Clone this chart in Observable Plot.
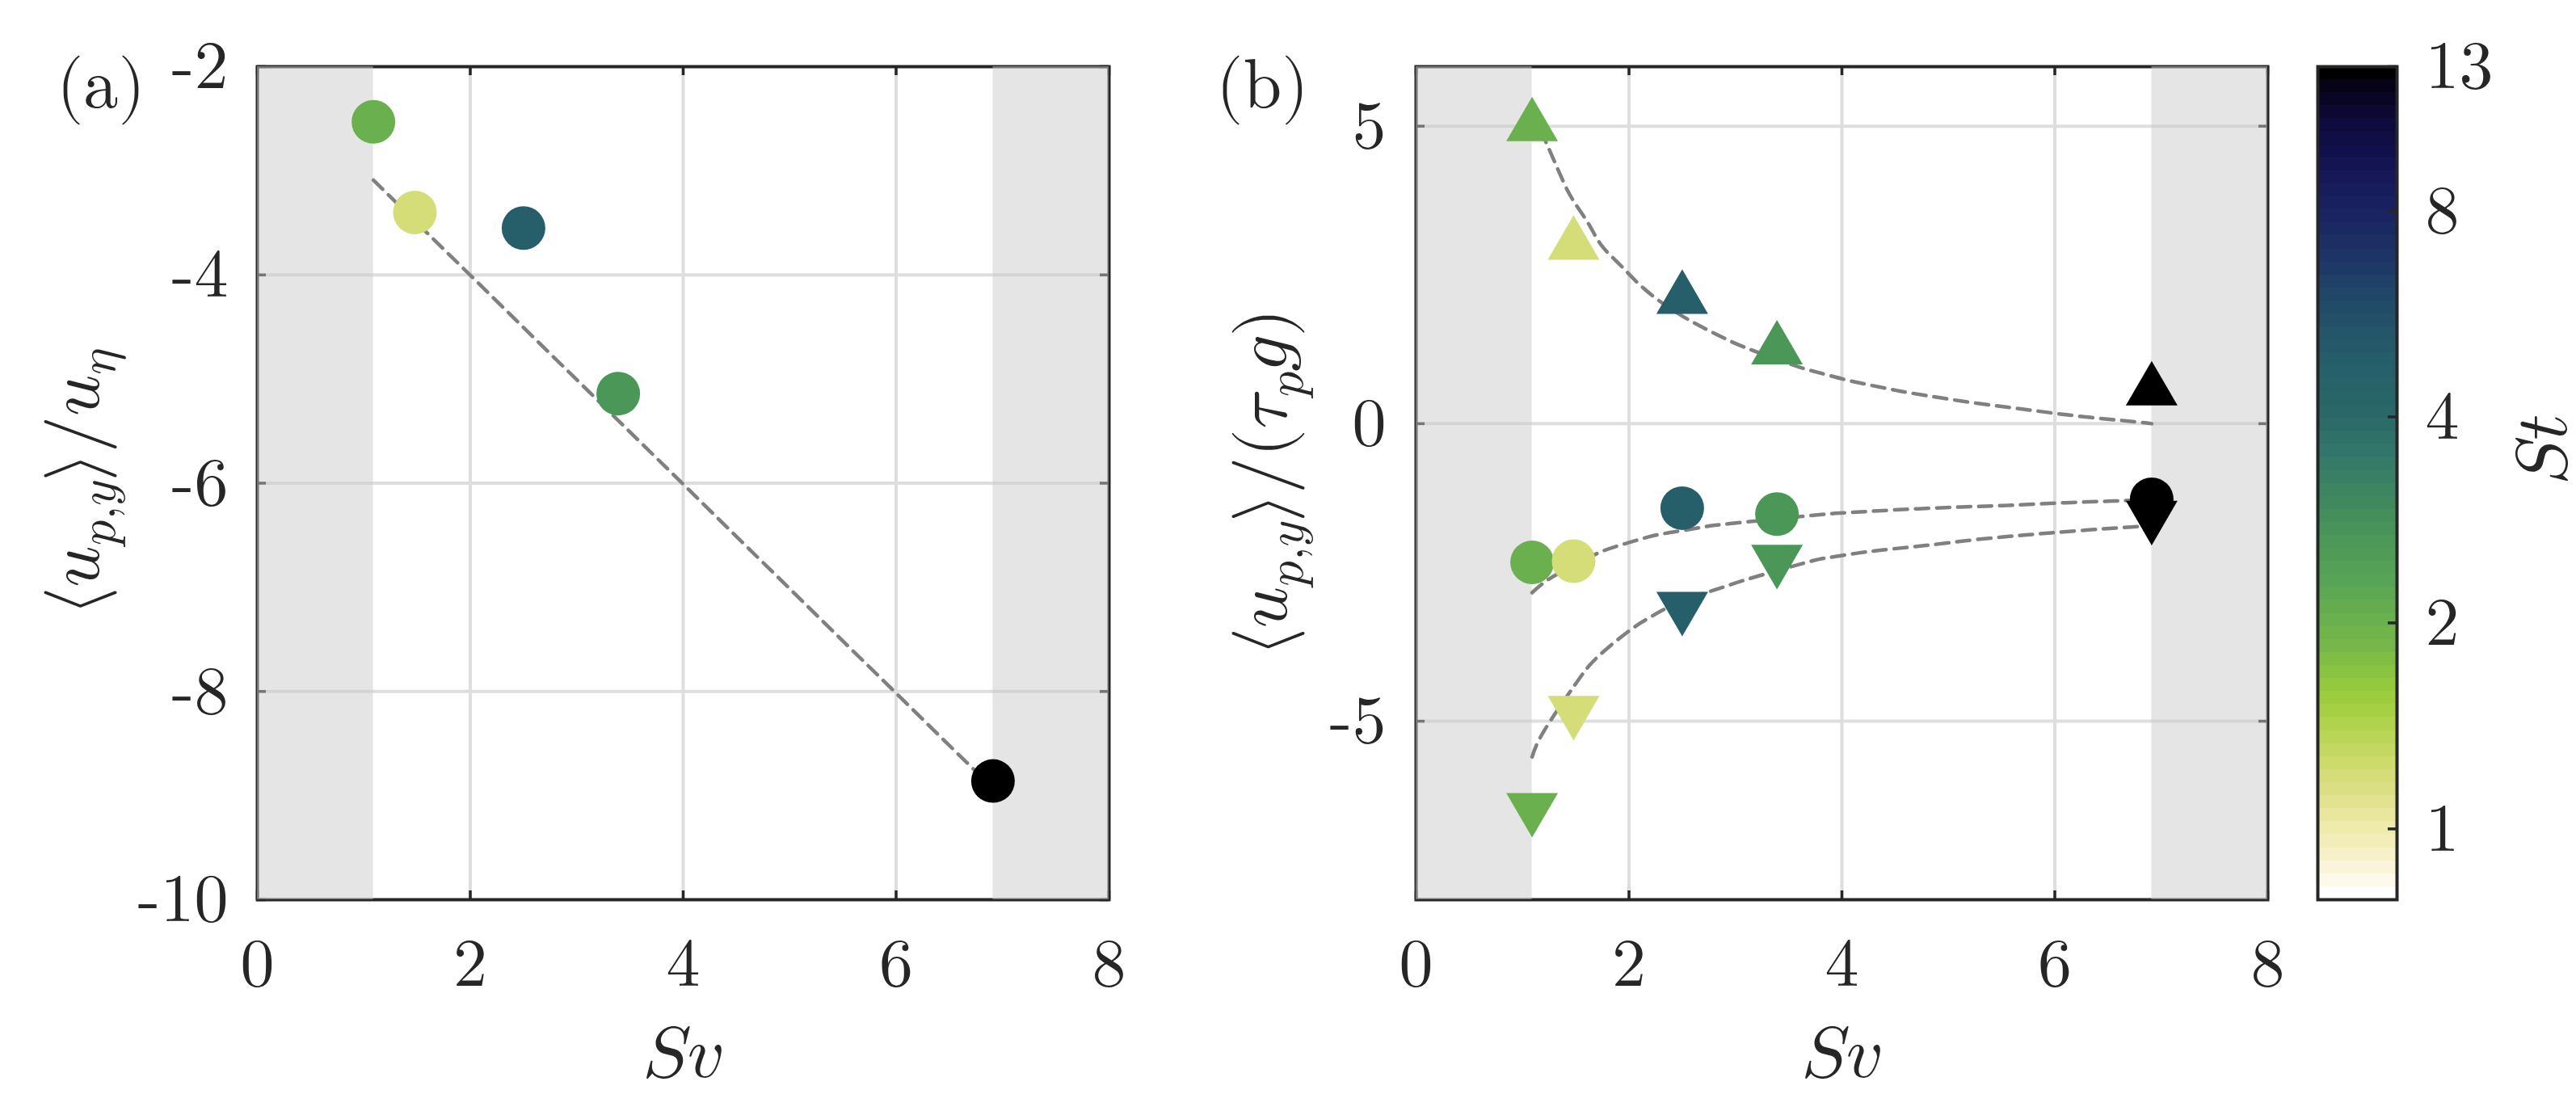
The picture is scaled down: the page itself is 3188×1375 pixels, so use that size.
<!DOCTYPE html>
<html><head><meta charset="utf-8">
<script src="https://cdn.jsdelivr.net/npm/d3@7"></script>
<script src="https://cdn.jsdelivr.net/npm/@observablehq/plot@0.6"></script>
<style>
body{margin:0;background:#fff;}
#fig{position:relative;width:3188px;height:1375px;overflow:hidden;background:#fff;}
#fig svg{position:absolute;top:0;}
</style></head><body><div id="fig"></div>
<script>
// ---------------- data ----------------
const Sv       = [1.09, 1.48, 2.50, 3.39, 6.91];
const St       = [2.0, 1.17, 4.8, 2.65, 13];
const velA     = [-2.53, -3.40, -3.55, -5.14, -8.86];   // panel (a)
const velUp    = [5.12, 3.13, 2.22, 1.37, 0.68];        // panel (b) up triangles
const velMean  = [-2.33, -2.31, -1.42, -1.52, -1.27];   // panel (b) circles
const velDown  = [-6.58, -4.95, -3.20, -2.41, -1.67];   // panel (b) down triangles

const fitA_Sv = [1.09, 6.91];
const fitA_v  = [-3.09, -8.93];
const fitUp_Sv = [1.09, 1.25, 1.375, 1.48, 1.62, 1.74, 1.91, 2.08, 2.28, 2.49, 2.69, 2.89, 3.12, 3.55, 3.80, 4.03, 4.26, 4.51, 4.80, 5.28, 5.76, 6.23, 6.71, 6.91];
const fitUp_v  = [5.25, 4.61, 4.10, 3.74, 3.36, 3.00, 2.68, 2.37, 2.07, 1.82, 1.62, 1.44, 1.26, 0.98, 0.85, 0.74, 0.65, 0.56, 0.47, 0.34, 0.23, 0.125, 0.04, 0.0];
const fitMean_Sv = [1.09, 1.25, 1.50, 1.755, 1.995, 2.235, 2.49, 2.72, 2.945, 3.73, 4.01, 4.49, 5.12, 5.60, 6.08, 6.55, 6.91];
const fitMean_v  = [-2.84, -2.61, -2.36, -2.14, -2.00, -1.88, -1.80, -1.73, -1.68, -1.54, -1.50, -1.45, -1.40, -1.37, -1.33, -1.30, -1.28];
const fitDown_Sv = [1.09, 1.20, 1.48, 1.63, 1.78, 2.01, 2.21, 2.50, 2.88, 3.12, 3.65, 3.88, 4.13, 4.39, 4.77, 5.25, 5.73, 6.21, 6.69, 6.91];
const fitDown_v  = [-5.60, -5.17, -4.42, -4.06, -3.80, -3.47, -3.24, -2.98, -2.75, -2.61, -2.34, -2.25, -2.18, -2.12, -2.05, -1.95, -1.87, -1.80, -1.74, -1.72];

const bandX1 = [0, 6.91];
const bandX2 = [1.09, 8];
const xTicks  = [0, 2, 4, 6, 8];
const xGrid   = [2, 4, 6];
const yTicksA = [-10, -8, -6, -4, -2];
const yGridA  = [-8, -6, -4];
const yTicksB = [-5, 0, 5];
const yGridB  = [-5, 0, 5];
const cbTicks = [1, 2, 4, 8, 13];
const stMin = 0.788, stMax = 13;

// colormap sampled from the colour bar (St value -> colour)
const cmapSt  = [0.788, 0.84, 0.90, 1.0, 1.12, 1.24, 1.43, 1.56, 1.82, 2.0, 2.3, 2.65, 3.06, 3.5, 4.0, 4.7, 5.4, 6.2, 7.0, 8.0, 9.0, 10.0, 11.0, 12.2, 13.0];
const cmapHex = ["#ffffff", "#fcf8e4", "#f6f1c8", "#eeeaa6", "#dcdf84", "#ccda6a", "#add148", "#9acc3c", "#78b848", "#6bb04e", "#58a456", "#4a9758", "#3e8760", "#34786a", "#2a6868", "#26606a", "#245468", "#214468", "#1e3266", "#1a2462", "#16195a", "#120f4c", "#0f0a3c", "#07041e", "#000000"];

// ---------------- helpers ----------------
const FONT = "'Latin Modern Math', 'Latin Modern Roman', 'Liberation Serif', serif";
const INK = "#262626";
const GRID = "#dedede";
const FW = 1054, FH = 1031, TL = 11;   // frame size, tick length (px)
const fmt = d => String(d);

const lmin = Math.log(stMin), lmax = Math.log(stMax);
const ramp = d3.scaleLinear(cmapSt.map(s => (Math.log(s) - lmin) / (lmax - lmin)), cmapHex)
  .interpolate(d3.interpolateRgb).clamp(true);
const colorOpts = {type: "log", domain: [stMin, stMax], interpolate: t => ramp(t)};

const pts = Sv.map((s, i) => ({Sv: s, St: St[i], a: velA[i], up: velUp[i], mean: velMean[i], down: velDown[i]}));
const bands = bandX1.map((x1, i) => ({x1, x2: bandX2[i]}));
const toLine = (xs, vs) => xs.map((x, i) => ({Sv: x, v: vs[i]}));

const triUp = {draw(ctx, size) { const r = Math.sqrt(size / Math.PI), w = 1.185 * r, h = 1.02 * r;
  ctx.moveTo(0, -h); ctx.lineTo(w, h); ctx.lineTo(-w, h); ctx.closePath(); }};
const triDown = {draw(ctx, size) { const r = Math.sqrt(size / Math.PI), w = 1.185 * r, h = 1.02 * r;
  ctx.moveTo(0, h); ctx.lineTo(w, -h); ctx.lineTo(-w, -h); ctx.closePath(); }};

function inwardTicks(xs, ys) {
  const o = {stroke: INK, strokeWidth: 3.5};
  return [
    Plot.tickX(xs, {...o, insetTop: FH - TL}),
    Plot.tickX(xs, {...o, insetBottom: FH - TL}),
    Plot.tickY(ys, {...o, insetRight: FW - TL}),
    Plot.tickY(ys, {...o, insetLeft: FW - TL})
  ];
}
const dashStyle = {x: "Sv", y: "v", stroke: "#808080", strokeWidth: 4.5, strokeDasharray: "16,10"};
const style = {fontFamily: FONT, fontSize: "84px", background: "transparent", overflow: "visible"};
const axisOpts = {tickSize: 0, fontSize: 84, color: INK, tickFormat: fmt, label: null};

// text label centred (along its direction) on (x, y); parts may be subscripts
function addText(svg, x, y, parts, {rotate = 0, size = 90, anchor = "middle"} = {}) {
  const g = d3.select(svg).append("g").attr("transform", `translate(${x},${y}) rotate(${rotate})`);
  const t = g.append("text").attr("fill", INK).attr("text-anchor", "start")
    .style("font-family", FONT).style("font-size", size + "px");
  for (const p of parts) {
    const s = t.append("tspan").text(p.t);
    if (p.sub) s.attr("baseline-shift", -0.22 * size).style("font-size", 0.7 * size + "px");
  }
  const len = t.node().getComputedTextLength();
  t.attr("x", anchor === "middle" ? -len / 2 : anchor === "end" ? -len : 0);
  return t;
}

// ---------------- panel (a) ----------------
const plotA = Plot.plot({
  width: 1400, height: 1375, marginLeft: 318, marginRight: 28, marginTop: 82, marginBottom: 262,
  style, x: {domain: [0, 8]}, y: {domain: [-10, -2]}, color: colorOpts,
  marks: [
    Plot.ruleX(xGrid, {stroke: GRID, strokeWidth: 4}),
    Plot.ruleY(yGridA, {stroke: GRID, strokeWidth: 4}),
    Plot.frame({stroke: INK, strokeWidth: 4}),
    ...inwardTicks(xTicks, yTicksA),
    Plot.rect(bands, {x1: "x1", x2: "x2", fill: "#cacaca", fillOpacity: 0.49}),
    Plot.line(toLine(fitA_Sv, fitA_v), dashStyle),
    Plot.dot(pts, {x: "Sv", y: "a", fill: "St", r: 27, symbol: "circle"}),
    Plot.axisX(xTicks, {...axisOpts, anchor: "bottom", tickPadding: 47}),
    Plot.axisY(yTicksA, {...axisOpts, anchor: "left", tickPadding: 36})
  ]
});
plotA.style.left = "0px";

// ---------------- panel (b) ----------------
const plotB = Plot.plot({
  width: 1440, height: 1375, marginLeft: 352, marginRight: 34, marginTop: 82, marginBottom: 262,
  style, x: {domain: [0, 8]}, y: {domain: [-8, 6]}, color: colorOpts,
  marks: [
    Plot.ruleX(xGrid, {stroke: GRID, strokeWidth: 4}),
    Plot.ruleY(yGridB, {stroke: GRID, strokeWidth: 4}),
    Plot.frame({stroke: INK, strokeWidth: 4}),
    ...inwardTicks(xTicks, yTicksB),
    Plot.rect(bands, {x1: "x1", x2: "x2", fill: "#cacaca", fillOpacity: 0.49}),
    Plot.line(toLine(fitUp_Sv, fitUp_v), {...dashStyle, curve: "natural"}),
    Plot.line(toLine(fitMean_Sv, fitMean_v), {...dashStyle, curve: "natural"}),
    Plot.line(toLine(fitDown_Sv, fitDown_v), {...dashStyle, curve: "natural"}),
    Plot.dot(pts, {x: "Sv", y: "mean", fill: "St", r: 27, symbol: "circle"}),
    Plot.dot(pts, {x: "Sv", y: "up", fill: "St", r: 27, symbol: triUp}),
    Plot.dot(pts, {x: "Sv", y: "down", fill: "St", r: 27, symbol: triDown}),
    Plot.axisX(xTicks, {...axisOpts, anchor: "bottom", tickPadding: 47}),
    Plot.axisY(yTicksB, {...axisOpts, anchor: "left", tickPadding: 37})
  ]
});
plotB.style.left = "1400px";

// ---------------- colour bar ----------------
const nBands = 64;
const cbBands = d3.range(nBands).map(i => ({
  lo: Math.exp(lmin + (lmax - lmin) * i / nBands),
  hi: Math.exp(lmin + (lmax - lmin) * (i + 1) / nBands),
  c: Math.exp(lmin + (lmax - lmin) * i / (nBands - 1))
}));
const plotC = Plot.plot({
  width: 348, height: 1375, marginLeft: 28, marginRight: 222, marginTop: 82, marginBottom: 262,
  style, y: {type: "log", domain: [stMin, stMax]}, color: colorOpts,
  marks: [
    Plot.rect(cbBands, {y1: "lo", y2: "hi", fill: "c", shapeRendering: "crispEdges"}),
    Plot.tickY(cbTicks, {insetLeft: 98 - TL, stroke: INK, strokeWidth: 3.5}),
    Plot.frame({stroke: INK, strokeWidth: 4}),
    Plot.axisY(cbTicks, {...axisOpts, anchor: "right", tickPadding: 35})
  ]
});
plotC.style.left = "2840px";

const fig = document.getElementById("fig");
fig.append(plotA, plotB, plotC);

// ---------------- texts (after insertion so they can be measured) ----------------
addText(plotA, 70, 133, [{t: "(a)"}], {size: 86, anchor: "start"});
addText(plotA, 845, 1333, [{t: "𝑆𝑣"}], {size: 90});
addText(plotA, 122, 597, [{t: "⟨𝑢"}, {t: "𝑝,𝑦", sub: true}, {t: "⟩/𝑢"}, {t: "𝜂", sub: true}], {rotate: -90, size: 90});

addText(plotB, 105, 133, [{t: "(b)"}], {size: 86, anchor: "start"});
addText(plotB, 879, 1333, [{t: "𝑆𝑣"}], {size: 90});
addText(plotB, 192, 597, [{t: "⟨𝑢"}, {t: "𝑝,𝑦", sub: true}, {t: "⟩/(𝜏"}, {t: "𝑝", sub: true}, {t: "𝑔)"}], {rotate: -90, size: 90});

addText(plotC, 336, 556, [{t: "𝑆𝑡"}], {rotate: -90, size: 90});
</script>
</body></html>
